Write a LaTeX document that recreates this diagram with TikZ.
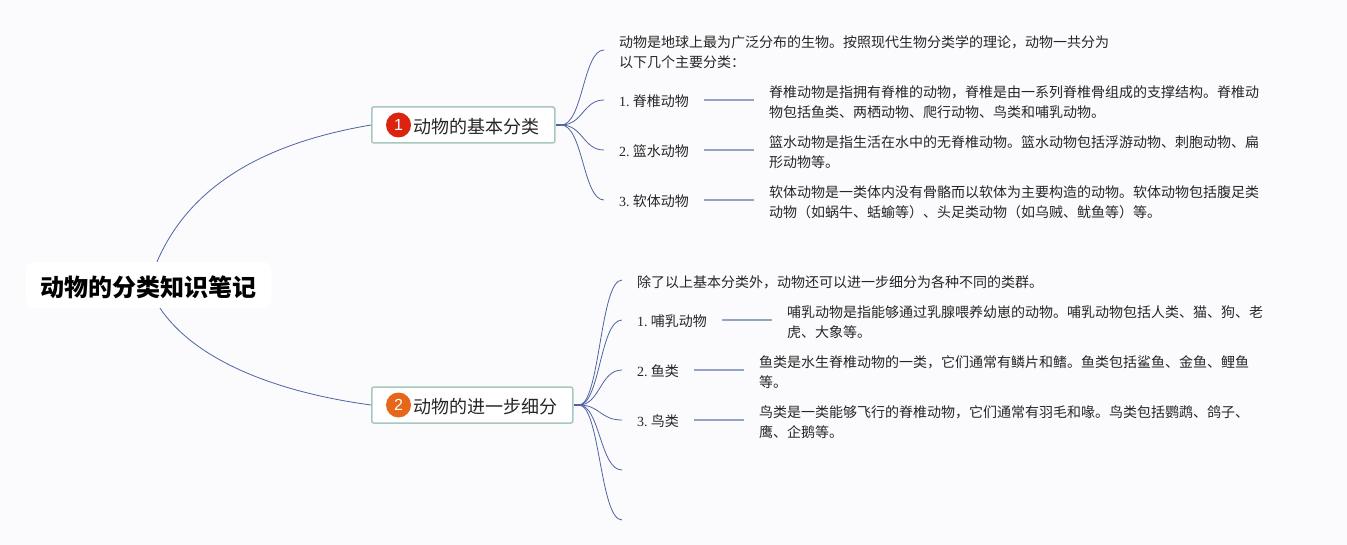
\documentclass[tikz,border=0pt]{standalone}
\usepackage{fontspec}
\setmainfont{Liberation Serif}
\newfontfamily\cjk{Noto Sans CJK SC}
\newfontfamily\helv{Liberation Sans}
\definecolor{bgc}{HTML}{FBFBFD}
\definecolor{branchc}{HTML}{4F63A3}
\definecolor{linec}{HTML}{94A2C4}
\definecolor{boxc}{HTML}{A7C8BD}
\definecolor{txtc}{HTML}{262626}
\definecolor{badgea}{HTML}{DA2410}
\definecolor{badgeb}{HTML}{E6661A}
\tikzset{
  leaf/.style={anchor=west,align=left,inner xsep=15pt,inner ysep=0pt,text=txtc,font=\cjk\fontsize{14}{20}\selectfont},
  label/.style={anchor=west,inner xsep=15pt,inner ysep=0pt,text=txtc,font=\fontsize{14}{20}\selectfont},
  topic/.style={anchor=west,draw=boxc,line width=1.5pt,fill=white,rounded corners=2pt,inner xsep=15pt,inner ysep=0pt,minimum height=36pt,text=txtc,font=\cjk\fontsize{18}{22}\selectfont},
  rootnode/.style={fill=white,rounded corners=8pt,inner sep=0pt,minimum width=246pt,minimum height=46pt,text=black,font=\cjk\bfseries\fontsize{24}{28}\selectfont},
  badge/.style={circle,inner sep=0pt,minimum size=25pt,text=white,font=\helv\fontsize{16}{18}\selectfont},
  curve/.style={draw=branchc,line width=0.8pt},
  stub/.style={draw=branchc,line width=1.6pt},
  bar/.style={draw=linec,line width=1.3pt}
}
\newcommand{\numlab}[2]{#1.\hspace{3.2pt}{\cjk #2}}
\begin{document}
\begin{tikzpicture}[x=1pt,y=-1pt]
\path[use as bounding box,fill=bgc] (0,0) rectangle (1347,545);
\node[rootnode] (root) at (148.5,285) {\raisebox{-2pt}[\height][\depth]{动物的分类知识笔记}};
\node[topic] (ta) at (371,125) {\hspace{27pt}\raisebox{-1.5pt}[\height][\depth]{动物的基本分类}};
\node[topic] (tb) at (371,405) {\hspace{27pt}\raisebox{-1.5pt}[\height][\depth]{动物的进一步细分}};
\node[badge,fill=badgea] (ba) at (398.5,125) {1};
\node[badge,fill=badgeb] (bb) at (398.5,405) {2};
\coordinate (ha) at (561,125);
\coordinate (hb) at (579,405);
\coordinate (cxa) at (583,0);
\coordinate (cxb) at (600,0);
\draw[curve] ([xshift=8.5pt]root.north) .. controls (190,185) and (265,143) .. (ta.west);
\draw[curve] ([xshift=11.5pt]root.south) .. controls (195,360) and (275,392) .. (tb.west);
\draw[stub] (ta.east) -- (ha);
\draw[stub] (tb.east) -- (hb);
% group one
\node[leaf] (a0) at (604,52) {动物是地球上最为广泛分布的生物。按照现代生物分类学的理论，动物一共分为\\以下几个主要分类：};
\node[label] (a1) at (604,101) {\numlab{1}{脊椎动物}};
\node[label] (a2) at (604,151) {\numlab{2}{篮水动物}};
\node[label] (a3) at (604,201) {\numlab{3}{软体动物}};
\node[leaf] (d1) at (754,102) {脊椎动物是指拥有脊椎的动物，脊椎是由一系列脊椎骨组成的支撑结构。脊椎动\\物包括鱼类、两栖动物、爬行动物、鸟类和哺乳动物。};
\node[leaf] (d2) at (754,152) {篮水动物是指生活在水中的无脊椎动物。篮水动物包括浮游动物、刺胞动物、扁\\形动物等。};
\node[leaf] (d3) at (754,202) {软体动物是一类体内没有骨骼而以软体为主要构造的动物。软体动物包括腹足类\\动物（如蜗牛、蛞蝓等）、头足类动物（如乌贼、鱿鱼等）等。};
\draw[curve] (ha) .. controls (583,125) and (583,50) .. ([yshift=2pt]a0.west);
\foreach \n in {a1,a2,a3}
  \draw[curve] (ha) .. controls (583,125) and ([yshift=1pt]cxa|-\n.west) .. ([yshift=1pt]\n.west);
\draw[bar] ([yshift=1pt]a1.east) -- ([yshift=1pt]d1.west|-a1.east);
\draw[bar] ([yshift=1pt]a2.east) -- ([yshift=1pt]d2.west|-a2.east);
\draw[bar] ([yshift=1pt]a3.east) -- ([yshift=1pt]d3.west|-a3.east);
% group two
\node[leaf] (b0) at (622,282) {除了以上基本分类外，动物还可以进一步细分为各种不同的类群。};
\node[label] (b1) at (622,321) {\numlab{1}{哺乳动物}};
\node[label] (b2) at (622,371) {\numlab{2}{鱼类}};
\node[label] (b3) at (622,421) {\numlab{3}{鸟类}};
\coordinate (b4) at (622,471);
\coordinate (b5) at (622,521);
\node[leaf] (e1) at (772,322) {哺乳动物是指能够通过乳腺喂养幼崽的动物。哺乳动物包括人类、猫、狗、老\\虎、大象等。};
\node[leaf] (e2) at (744,372) {鱼类是水生脊椎动物的一类，它们通常有鳞片和鳍。鱼类包括鲨鱼、金鱼、鲤鱼\\等。};
\node[leaf] (e3) at (744,422) {鸟类是一类能够飞行的脊椎动物，它们通常有羽毛和喙。鸟类包括鹦鹉、鸽子、\\鹰、企鹅等。};
\draw[curve] (hb) .. controls (600,405) and (600,280) .. ([yshift=2pt]b0.west);
\foreach \n in {b1.west,b2.west,b3.west,b4,b5}
  \draw[curve] (hb) .. controls (600,405) and ([yshift=1pt]cxb|-\n) .. ([yshift=1pt]\n);
\draw[bar] ([yshift=1pt]b1.east) -- ([yshift=1pt]e1.west|-b1.east);
\draw[bar] ([yshift=1pt]b2.east) -- ([yshift=1pt]e2.west|-b2.east);
\draw[bar] ([yshift=1pt]b3.east) -- ([yshift=1pt]e3.west|-b3.east);
\end{tikzpicture}
\end{document}
